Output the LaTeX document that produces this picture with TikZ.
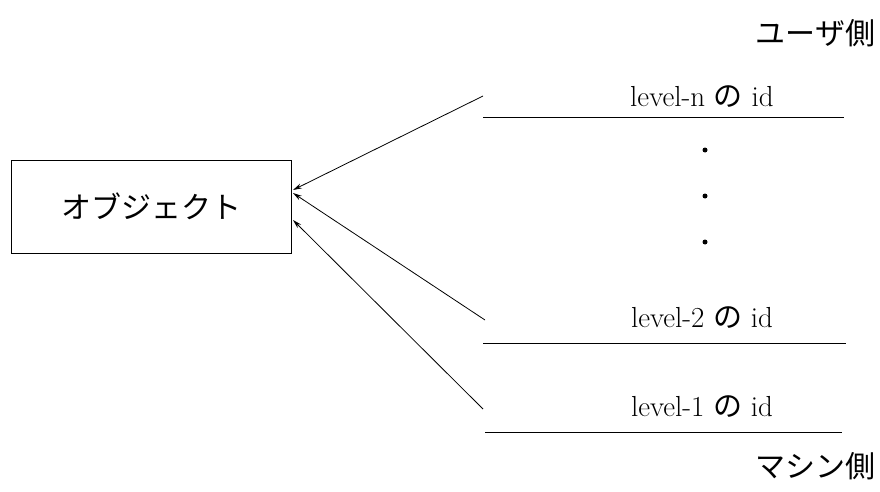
\documentclass[tikz,border=0pt]{standalone}
\usepackage{fontspec}
\newfontfamily\cjk{Noto Sans CJK JP}
\usetikzlibrary{arrows.meta}
\begin{document}
\begin{tikzpicture}[x=1pt,y=-1pt,line width=1pt,
  conn/.style={line width=0.8pt,-{Stealth[length=9pt,width=5pt]}},
  idlab/.style={font=\fontsize{29}{33}\selectfont},
  jlab/.style={font=\cjk\fontsize{30}{34}\selectfont},
  dotm/.style={circle,fill=black,inner sep=0pt,minimum size=5pt}]
\useasboundingbox (0,0) rectangle (880,492);
\node[draw,jlab,minimum width=280pt,minimum height=93pt,inner sep=0pt] (obj) at (151,206.5) {オブジェクト};
\node[jlab,anchor=east] (user) at (879,33) {ユーザ側};
\node[jlab,anchor=east] (mach) at (879,466) {マシン側};
\node[idlab] (ln) at (702,97) {level-n {\cjk の} id};
\node[idlab] (l2) at (702,318) {level-2 {\cjk の} id};
\node[idlab] (l1) at (702,407) {level-1 {\cjk の} id};
\coordinate (lnA) at (483,118); \coordinate (lnB) at (844,118);
\coordinate (l2A) at (483,343); \coordinate (l2B) at (846,343);
\coordinate (l1A) at (485,432); \coordinate (l1B) at (842,432);
\draw (lnA) -- (lnB);
\draw (l2A) -- (l2B);
\draw (l1A) -- (l1B);
\node[dotm] (d1) at (705,150) {};
\node[dotm] (d2) at (705,196) {};
\node[dotm] (d3) at (705,242) {};
\coordinate (sn) at (483,96);
\coordinate (s2) at (485,320);
\coordinate (s1) at (483,409);
\coordinate (en) at (293,190);
\coordinate (e2) at (293,193);
\coordinate (e1) at (293,220);
\draw[conn] (sn) -- (en);
\draw[conn] (s2) -- (e2);
\draw[conn] (s1) -- (e1);
\end{tikzpicture}
\end{document}
